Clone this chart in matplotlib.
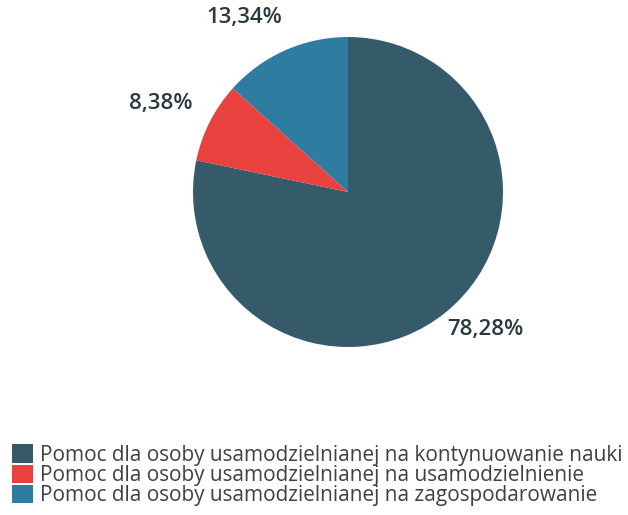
import numpy as np
import matplotlib
matplotlib.use('Agg')
import matplotlib.pyplot as plt

plt.rcParams['font.family'] = ['Open Sans', 'DejaVu Sans']

categories = [
	'Pomoc dla osoby usamodzielnianej na kontynuowanie nauki',
	'Pomoc dla osoby usamodzielnianej na usamodzielnienie',
	'Pomoc dla osoby usamodzielnianej na zagospodarowanie',
]
values = [78.28, 8.38, 13.34]
value_labels = ['78,28%', '8,38%', '13,34%']
colors = ['#355b6b', '#e8413e', '#2f7ca1']

W, H = 628, 515
fig = plt.figure(figsize=(W / 100, H / 100), dpi=100)

# pie centre (348, 192) px, radius 155 px
cx, cy, r = 348, 192, 155
ax = fig.add_axes([(cx - r) / W, (H - cy - r) / H, 2 * r / W, 2 * r / H])

wedges, texts = ax.pie(values, colors=colors, startangle=90, counterclock=False,
	labels=value_labels, labeldistance=1.18,
	textprops={'fontsize': 16, 'fontweight': 'semibold', 'color': '#2a3840'},
	wedgeprops={'linewidth': 0})
# small nudges of the data labels (axes data units)
nudges = [(-0.105, 0.026), (0.052, 0.040), (0.054, 0.045)]
for t, (dx, dy) in zip(texts, nudges):
	x, y = t.get_position()
	t.set_position((x + dx, y + dy))
	t.set_va('center')
ax.set_xlim(-1, 1)
ax.set_ylim(-1, 1)
ax.set_aspect('equal')

leg = fig.legend(wedges, categories, loc='upper left',
	bbox_to_anchor=(8 / W, 1 - 440 / H), frameon=False,
	fontsize=14.95, handlelength=1.0, handleheight=1.0, handletextpad=0.35,
	labelspacing=-0.05, borderpad=0.2, borderaxespad=0)
for t in leg.get_texts():
	t.set_color('#404040')

fig.savefig('out.png', dpi=100)
